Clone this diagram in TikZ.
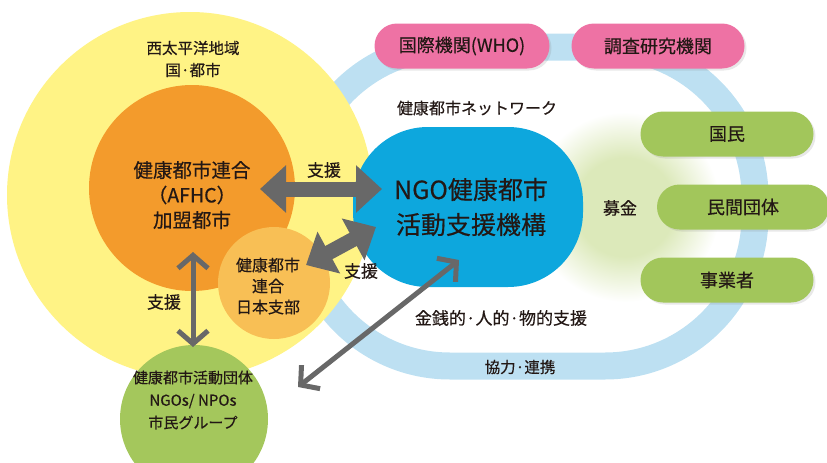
\documentclass[tikz,border=0pt]{standalone}
\usepackage{fontspec}
\setmainfont{Noto Sans CJK JP}[UprightFeatures={FakeBold=0.4}]
\usetikzlibrary{arrows.meta,shadows}

\definecolor{wpyellow}{HTML}{FFF385}
\definecolor{afhcorange}{HTML}{F39B2C}
\definecolor{japanorange}{HTML}{F8BF55}
\definecolor{groupgreen}{HTML}{A4C75C}
\definecolor{ngoblue}{HTML}{0DA7DD}
\definecolor{pillpink}{HTML}{EE72A4}
\definecolor{pillgreen}{HTML}{A2C65B}
\definecolor{ringblue}{HTML}{BDE0F2}
\definecolor{glowgreen}{HTML}{DCE9BA}
\definecolor{arrowgray}{HTML}{686868}
\definecolor{textblack}{HTML}{231815}

\pgfdeclareradialshading{bokinglow}{\pgfpoint{0bp}{0bp}}{%
  color(0bp)=(glowgreen); color(13bp)=(glowgreen); color(25bp)=(white); color(50bp)=(white)}

\tikzset{
  ring/.style={draw=ringblue, line width=27pt, rounded corners=150pt},
  pill/.style={rectangle, rounded corners=22.5pt, minimum height=45pt, inner sep=0pt,
    text=textblack, font=\fontsize{18}{20}\selectfont,
    drop shadow={opacity=0.18, shadow xshift=2pt, shadow yshift=-2pt}},
  pinkpill/.style={pill, fill=pillpink},
  greenpill/.style={pill, fill=pillgreen},
  disc/.style={circle, inner sep=0pt},
  blob/.style={rectangle, fill=ngoblue, rounded corners=75pt, minimum width=230pt, minimum height=160pt},
  txt/.style={inner sep=0pt, text=textblack, align=center},
  fatarrow/.style={draw=arrowgray, line width=15pt, >={Triangle[length=26pt,width=46pt]}, <->},
  thinarrow/.style={draw=arrowgray, line width=5pt, >={Straight Barb[length=13pt,width=30pt]}, <->},
}

\begin{document}
\begin{tikzpicture}[x=1pt,y=-1pt]
  \useasboundingbox (0,0) rectangle (827,463);
  \clip (0,0) rectangle (827,463);

  % network ring and fund-raising glow
  \draw[ring] (300,47) rectangle (755,366);
  \shade[shading=bokinglow] (625,207) circle[radius=95];

  \node[pinkpill, minimum width=175pt] (who) at (462,46) {国際機関(WHO)};
  \node[pinkpill, minimum width=173pt] (kenkyu) at (658,46) {調査研究機関};
  \node[greenpill, minimum width=173pt] (kokumin) at (727,134) {国民};
  \node[greenpill, minimum width=172pt] (minkan) at (743,207) {民間団体};
  \node[greenpill, minimum width=173pt] (jigyo) at (727,280) {事業者};

  % circles
  \node[disc, fill=wpyellow, minimum size=366pt] (wpac) at (190,195) {};
  \node[disc, fill=afhcorange, minimum size=206pt] (afhc) at (192,188) {};
  \node[disc, fill=japanorange, minimum size=112pt] (japan) at (274,283) {};
  \node[disc, fill=groupgreen, minimum size=148pt] (groups) at (194,419) {};
  \node[blob] (ngo) at (468,207) {};

  \node[txt, font=\fontsize{15.5}{22}\selectfont] (wpactext) at (193,59) {西太平洋地域\\国·都市};
  \node[txt, font=\fontsize{19.5}{25}\selectfont] (afhctext) at (192,195) {健康都市連合\\（AFHC）\\加盟都市};
  \node[txt, font=\fontsize{16}{21}\selectfont] (japantext) at (268,286) {健康都市\\連合\\日本支部};
  \node[txt, font=\fontsize{15}{22.5}\selectfont] (groupstext) at (193,400) {健康都市活動団体\\NGOs/ NPOs\\市民グループ};
  \node[txt, font=\fontsize{25}{35}\selectfont] (ngotext) at (471,207) {NGO健康都市\\活動支援機構};

  % arrows
  \coordinate (afhcend) at (260,189);
  \coordinate (ngoendA) at (382,189);
  \draw[fatarrow] (afhcend) -- (ngoendA);
  \coordinate (japanend) at (306,265);
  \coordinate (ngoendB) at (376,227);
  \draw[fatarrow] (japanend) -- (ngoendB);
  \coordinate (afhcendB) at (193,252);
  \coordinate (groupsend) at (193,347);
  \draw[thinarrow] (afhcendB) -- (groupsend);
  \coordinate (groupsendB) at (298,387);
  \coordinate (ngoendC) at (459,260);
  \draw[thinarrow] (groupsendB) -- (ngoendC);

  % labels
  \node[txt, font=\fontsize{17}{20}\selectfont] (shienA) at (324,170) {支援};
  \node[txt, font=\fontsize{17}{20}\selectfont] (shienB) at (361,271) {支援};
  \node[txt, font=\fontsize{17}{20}\selectfont] (shienC) at (164,302) {支援};
  \node[txt, font=\fontsize{16}{20}\selectfont] (network) at (477,108) {健康都市ネットワーク};
  \node[txt, font=\fontsize{17}{20}\selectfont] (bokin) at (620,208) {募金};
  \node[txt, font=\fontsize{17}{20}\selectfont] (kinsen) at (501,318) {金銭的·人的·物的支援};
  \node[txt, font=\fontsize{15.5}{20}\selectfont] (kyoryoku) at (520,367) {協力·連携};
\end{tikzpicture}
\end{document}
